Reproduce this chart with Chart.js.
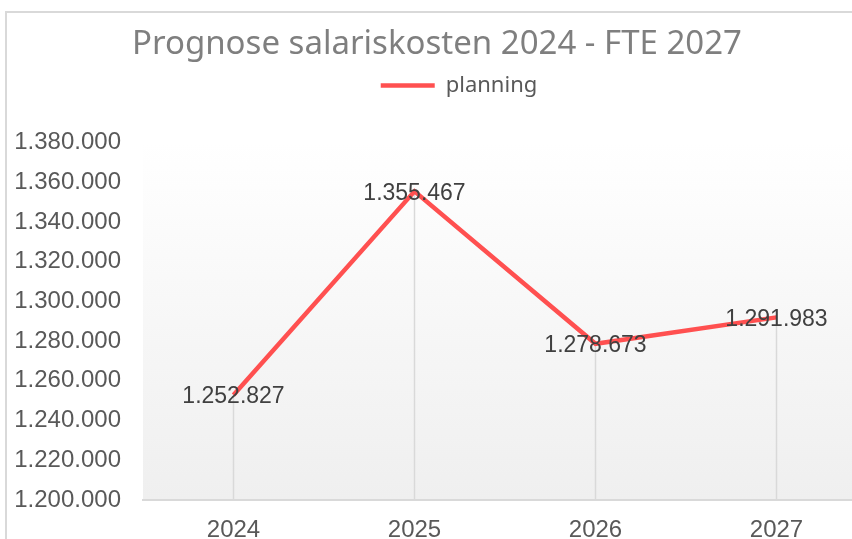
<!DOCTYPE html>
<html>
<head>
<meta charset="utf-8">
<script src="https://cdn.jsdelivr.net/npm/chart.js@4.4.1/dist/chart.umd.min.js"></script>
<style>
  html, body { margin: 0; padding: 0; background: #fff; overflow: hidden; }
  #wrap { position: absolute; left: 5px; top: 11px; width: 880px; height: 540px;
          border-top: 2px solid #d9d9d9; border-left: 2px solid #d9d9d9; }
</style>
</head>
<body>
<div id="wrap"><canvas id="salaris" width="880" height="540"></canvas></div>
<script>
// data
var years = ["2024", "2025", "2026", "2027"];
var planning = [1252827, 1355467, 1278673, 1291983];
var yMin = 1200000;
var yMax = 1380000;
var yStep = 20000;

let fmt = (n)=>{
  return Math.round(n).toString().replace(/\B(?=(\d{3})+(?!\d))/g, '.');
}

// gradient behind the plot area
var plotBg = {
  id: 'plotBg',
  beforeDraw: function(chart){
    var a = chart.chartArea, c = chart.ctx;
    var g = c.createLinearGradient(0, a.top, 0, a.bottom);
    g.addColorStop(0, '#ffffff');
    g.addColorStop(1, '#efefef');
    c.save();
    c.fillStyle = g;
    c.fillRect(a.left, a.top, a.right - a.left, a.bottom - a.top);
    c.restore();
  }
};

// vertical drop lines from each point to the axis
var dropLines = {
  id: 'dropLines',
  beforeDatasetsDraw: function(chart){
    var c = chart.ctx, bottom = chart.chartArea.bottom;
    c.save();
    c.strokeStyle = '#d9d9d9';
    c.lineWidth = 1.5;
    chart.getDatasetMeta(0).data.forEach(function(p){
      c.beginPath();
      c.moveTo(p.x, p.y);
      c.lineTo(p.x, bottom);
      c.stroke();
    });
    c.restore();
  }
};

// value labels centred on the points
var valueLabels = {
  id: 'valueLabels',
  afterDatasetsDraw: function(chart){
    var c = chart.ctx;
    c.save();
    c.font = '23px "Liberation Sans", Arial, sans-serif';
    c.fillStyle = '#404040';
    c.textAlign = 'center';
    c.textBaseline = 'middle';
    chart.getDatasetMeta(0).data.forEach(function(p, i){
      c.fillText(fmt(planning[i]), p.x, p.y + 2);
    });
    c.restore();
  }
};

// extra room between legend and plot, legend nudged right
var legendGap = {
  id: 'legendGap',
  beforeInit: function(chart){
    var fit = chart.legend.fit;
    chart.legend.fit = function(){
      fit.bind(chart.legend)();
      this.height += 36;
    };
  },
  afterLayout: function(chart){
    chart.legend.left += 22;
    chart.legend.right += 22;
  }
};

new Chart("salaris", {
  type: "line",
  data: {
    labels: years,
    datasets: [{
      label: "planning",
      data: planning,
      borderColor: "#ff5050",
      backgroundColor: "#ff5050",
      borderWidth: 4.5,
      pointRadius: 0,
      tension: 0
    }]
  },
  plugins: [plotBg, dropLines, valueLabels, legendGap],
  options: {
    responsive: false,
    animation: false,
    layout: { padding: { left: 0, right: 20, top: 0, bottom: 0 } },
    plugins: {
      title: {
        display: true,
        text: "Prognose salariskosten 2024 - FTE 2027",
        color: "#7f7f7f",
        font: { family: '"Noto Sans", sans-serif', size: 33, weight: 'normal' },
        padding: { top: 12, bottom: 0 }
      },
      legend: {
        display: true,
        labels: {
          usePointStyle: true,
          pointStyle: 'line',
          pointStyleWidth: 54,
          boxWidth: 54,
          boxHeight: 20,
          color: "#595959",
          font: { family: '"Noto Sans", sans-serif', size: 22 },
          padding: 10
        }
      },
      tooltip: { enabled: false }
    },
    scales: {
      x: {
        offset: true,
        grid: { display: false, drawTicks: false },
        border: { display: true, color: '#d9d9d9', width: 2 },
        ticks: {
          color: "#595959",
          font: { family: '"Liberation Sans", Arial, sans-serif', size: 24 },
          padding: 16
        },
        afterFit: function(s){ s.height = 53; }
      },
      y: {
        min: yMin,
        max: yMax,
        grid: { display: false, drawTicks: false },
        border: { display: false },
        ticks: {
          stepSize: yStep,
          color: "#595959",
          font: { family: '"Liberation Sans", Arial, sans-serif', size: 24 },
          padding: 22,
          callback: function(v){ return fmt(v); }
        },
        afterFit: function(s){ s.width = 136; }
      }
    }
  }
});
</script>
</body>
</html>
